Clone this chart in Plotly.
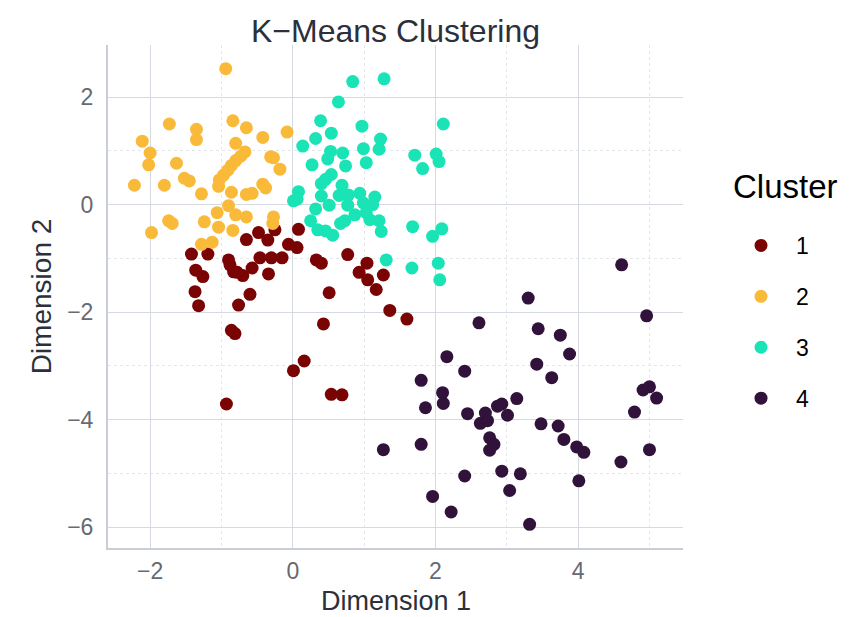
import plotly.graph_objects as go

# Cluster 1 (dark red)
x1 = [-1.42, -1.19, -1.36, -1.26, -1.37, -1.32, -0.90, -0.88, -0.83, -0.70, -0.78, -0.57,
      -0.65, -0.48, -0.35, -0.25, -0.46, -0.30, -0.15, -0.34, -0.60, -0.76, -0.86, -0.81,
      -0.93, -0.06, 0.06, 0.08, 0.33, 0.40, 0.77, 0.93, 1.04, 1.05, 1.17, 1.27, 0.51,
      0.43, 1.36, 1.60, 0.01, 0.16, 0.54, 0.69]
y1 = [-0.92, -0.92, -1.22, -1.34, -1.62, -1.88, -1.03, -1.12, -1.25, -1.32, -1.26, -1.18,
      -0.65, -0.52, -0.66, -0.47, -0.99, -0.99, -0.99, -1.29, -1.67, -1.87, -2.34, -2.40,
      -3.71, -0.74, -0.80, -0.46, -1.03, -1.09, -0.93, -1.26, -1.09, -1.40, -1.58, -1.31, -1.64,
      -2.22, -1.97, -2.13, -3.09, -2.91, -3.53, -3.54]

# Cluster 2 (orange)
x2 = [-0.94, -1.73, -1.35, -1.35, -2.11, -2.00, -2.02, -1.63, -2.22, -1.80, -1.52, -1.45,
      -1.28, -1.74, -1.69, -1.98, -1.24, -1.28, -1.13, -0.84, -0.65, -0.42, -0.08, -0.80,
      -0.67, -0.73, -0.80, -0.86, -0.91, -0.97, -1.03, -1.04, -0.31, -0.27, -0.18, -0.86,
      -0.65, -0.57, -0.42, -0.38, -0.90, -1.06, -0.80, -0.65, -0.27, -0.28, -1.04, -0.84]
y2 = [2.53, 1.50, 1.40, 1.21, 1.18, 0.96, 0.74, 0.77, 0.36, 0.36, 0.49, 0.44,
      0.20, -0.30, -0.35, -0.52, -0.32, -0.74, -0.70, 1.56, 1.43, 1.25, 1.35, 1.14,
      0.98, 0.90, 0.82, 0.73, 0.64, 0.55, 0.46, 0.34, 0.89, 0.87, 0.66, 0.23,
      0.19, 0.21, 0.38, 0.31, -0.02, -0.15, -0.19, -0.23, -0.23, -0.35, -0.42, -0.48]

# Cluster 3 (teal)
x3 = [0.84, 1.28, 0.64, 0.39, 0.54, 0.32, 0.14, 0.97, 1.23, 1.21, 0.99, 2.11,
      1.71, 2.01, 2.05, 1.82, 0.53, 0.49, 0.70, 0.27, 0.74, 1.03, 0.54, 0.46,
      0.40, 0.69, 0.08, 0.06, 0.01, 0.40, 0.65, 0.78, 0.94, 1.15, 1.12, 0.51,
      0.32, 0.77, 0.99, 1.03, 0.87, 0.25, 0.67, 0.73, 1.08, 1.21, 1.24, 0.35,
      0.46, 0.56, 1.68, 2.09, 1.96, 1.31, 1.67, 2.04, 2.06]
y3 = [2.29, 2.34, 1.91, 1.56, 1.33, 1.23, 1.09, 1.46, 1.22, 1.03, 1.04, 1.50,
      0.92, 0.94, 0.80, 0.67, 0.99, 0.85, 0.96, 0.74, 0.72, 0.78, 0.56, 0.47,
      0.39, 0.36, 0.24, 0.10, 0.07, 0.16, 0.17, 0.18, 0.21, 0.14, 0.00, -0.01,
      -0.08, -0.01, 0.03, -0.15, -0.19, -0.30, -0.35, -0.30, -0.28, -0.30, -0.50, -0.47,
      -0.49, -0.57, -0.41, -0.45, -0.59, -1.03, -1.18, -1.09, -1.40]

# Cluster 4 (dark purple)
x4 = [4.61, 3.30, 4.96, 2.61, 3.44, 3.75, 3.88, 2.16, 3.42, 2.41, 3.63, 1.80,
      2.10, 2.11, 1.86, 3.14, 2.87, 2.93, 3.01, 2.45, 2.70, 2.63, 2.73, 2.76,
      2.82, 2.76, 3.48, 3.72, 3.80, 3.98, 4.08, 4.91, 5.00, 5.10, 4.79, 5.00,
      4.60, 1.27, 1.80, 2.41, 2.93, 3.19, 3.04, 4.01, 1.96, 2.22, 3.32]
y4 = [-1.12, -1.74, -2.07, -2.20, -2.31, -2.43, -2.78, -2.83, -2.97, -3.10, -3.22, -3.27,
      -3.50, -3.70, -3.78, -3.61, -3.75, -3.71, -3.92, -3.89, -3.88, -4.07, -4.02, -4.34,
      -4.46, -4.57, -4.08, -4.12, -4.37, -4.51, -4.61, -3.45, -3.39, -3.60, -3.86, -4.56,
      -4.79, -4.56, -4.46, -5.05, -4.96, -5.01, -5.32, -5.14, -5.43, -5.72, -5.95]

clusters = ["1", "2", "3", "4"]
colors = ["#7A0403", "#FABA39", "#1AE4B6", "#30123B"]
xs = [x1, x2, x3, x4]
ys = [y1, y2, y3, y4]

FONT = "Liberation Sans, Arial, Helvetica, sans-serif"

L, R, T, B = 108, 683, 45, 548
W, H = 859, 617

fig = go.Figure()
for name, col, xv, yv in zip(clusters, colors, xs, ys):
    fig.add_trace(go.Scatter(
        x=xv, y=yv, mode="markers", name=name, legendgroup=name,
        marker=dict(color=col, size=13, line=dict(width=0)),
    ))

axis_common = dict(
    showgrid=True, gridcolor="#d5d9e0", gridwidth=1,
    zeroline=False, showline=True, linecolor="#c9cdd5", linewidth=2,
    ticks="", automargin=False,
    tickfont=dict(family=FONT, size=23, color="#666a73"),
    minor=dict(dtick=1, showgrid=True, gridcolor="#e3e6ea", griddash="dot", gridwidth=1),
)

fig.update_layout(
    width=W, height=H,
    paper_bgcolor="white", plot_bgcolor="white",
    margin=dict(l=L, r=W - R, t=T, b=H - B),
    title=dict(text="K\u2212Means Clustering", x=(L + R) / 2 / W, xanchor="center",
               y=1 - 31 / H, yanchor="middle",
               font=dict(family=FONT, size=32, color="#2b303b")),
    xaxis=dict(axis_common, range=[-2.59, 5.47], dtick=2, tick0=0, ticklabelstandoff=1),
    yaxis=dict(axis_common, range=[-6.39, 2.97], dtick=2, tick0=0, ticklabelstandoff=8,
               title=dict(text="Dimension 2", font=dict(family=FONT, size=28, color="#2b303b"), standoff=7)),
    legend=dict(
        font=dict(family=FONT, size=23, color="black"),
        x=(726 - L) / (R - L), xanchor="left", y=(B - 224) / (B - T), yanchor="top",
        tracegroupgap=18, itemwidth=60,
        bgcolor="rgba(0,0,0,0)",
    ),
    annotations=[
        dict(text="Cluster", xref="paper", yref="paper",
             x=(731 - L) / (R - L), xanchor="left",
             y=(B - 186) / (B - T), yanchor="middle",
             showarrow=False, font=dict(family=FONT, size=33, color="black")),
        dict(text="Dimension 1", xref="paper", yref="paper",
             x=0.5, xanchor="center", borderpad=0,
             y=(B - 617) / (B - T), yanchor="bottom",
             showarrow=False, font=dict(family=FONT, size=27, color="#2b303b")),
    ],
    showlegend=True,
)

fig.write_html("out.html", config={"displayModeBar": False},
               post_script="document.body.style.margin='0px';")
